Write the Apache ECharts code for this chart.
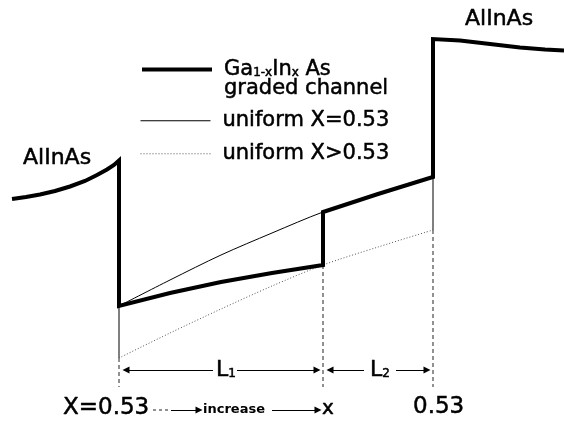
<!DOCTYPE html>
<html>
<head>
<meta charset="utf-8">
<script src="https://cdn.jsdelivr.net/npm/echarts@6.0.0/dist/echarts.min.js"></script>
<style>
html,body{margin:0;padding:0;background:#fff;}
#chart{width:564px;height:421px;}
</style>
</head>
<body>
<div id="chart"></div>
<script>
// ---------- data: position along the layer stack (x) and band energy (E), arbitrary units ----------
// Graded Ga(1-x)In(x)As channel between AlInAs barriers (conduction band edge)
const gradedX = [12, 26, 40, 55, 70, 85, 97, 107, 114, 119, 119, 170, 221, 272, 323, 323, 378, 433, 433, 460, 490, 520, 545, 564];
const gradedE = [222, 224, 226.5, 230, 234.5, 240, 246, 251.5, 256, 260.5, 115, 128, 139, 148, 156, 209, 227, 244, 382, 380.5, 377, 373.5, 371.5, 370.5];
// Uniform X = 0.53 channel
const uniformEqX = [119, 170, 221, 272, 323, 378, 433];
const uniformEqE = [115, 141, 166, 188, 209, 227, 244];
// Uniform X > 0.53 channel
const uniformGtX = [119, 170, 221, 272, 323, 378, 433];
const uniformGtE = [63, 88, 112, 135, 156, 174, 191];
// Region boundaries (x) and where their dashed guides start / end (E)
const boundaryX = [119, 323, 433];
const guideTopE = [63, 156, 191];
const guideBottomE = 34;
const dimensionE = 51;     // level of the L1 / L2 dimension arrows
const compositionE = 11;   // level of the composition annotation row
// Text
const seriesNames = ['graded', 'uniformEq', 'uniformGt'];
const legendLabels = ['Ga{s|1-x}In{s|x} As\ngraded channel', 'uniform X=0.53', 'uniform X>0.53'];
const barrierLabels = ['AlInAs', 'AlInAs'];
const lengthLabels = ['L{s|1}', 'L{s|2}'];
const compositionLabels = ['X=0.53', 'increase', 'x', '0.53'];

// ---------- chart ----------
const FONT = 'DejaVu Sans';
const chart = echarts.init(document.getElementById('chart'), null, {renderer: 'canvas'});
const pts = (xs, es) => xs.map((x, i) => [x, es[i]]);
const seg = (x1, e1, x2, e2) => [[x1, e1], [x2, e2]];

// vertical guides
const guideSeries = [];
boundaryX.forEach((x, i) => {
  guideSeries.push({
    type: 'line', data: seg(x, guideTopE[i], x, guideBottomE), symbol: 'none', silent: true,
    lineStyle: {color: '#222', width: 1, type: [4, 3]}, z: 2
  });
});
// thin solid connectors between the uniform curves at the two ends of the channel
[0, uniformEqX.length - 1].forEach(k => {
  guideSeries.push({
    type: 'line', data: seg(uniformEqX[k], uniformGtE[k], uniformEqX[k], uniformEqE[k]), symbol: 'none', silent: true,
    lineStyle: {color: '#000', width: 1}, z: 2
  });
});

// dimension arrows (L1, L2) between boundaries, with a gap for the label
const tipInset = 7, gapHalf = [12, 16], gapShift = [4, 2];
const arrowData = [];
for (let i = 0; i < 2; i++) {
  const a = boundaryX[i], b = boundaryX[i + 1];
  const c = (a + b) / 2 + gapShift[i];
  arrowData.push({coords: seg(c - gapHalf[i], dimensionE, a + tipInset, dimensionE)});
  arrowData.push({coords: seg(c + gapHalf[i], dimensionE, b - tipInset + 1, dimensionE)});
}
// composition row arrows
arrowData.push({coords: seg(171, compositionE, 199, compositionE)});
arrowData.push({coords: seg(272, compositionE, 318, compositionE)});

const legendTops = [41, 110, 143];
const legendWidths = [4, 1, 1];
const legendTypes = ['solid', 'solid', [1, 2]];
const legendColors = ['#000', '#000', '#555'];
const TB = {textBorderColor: '#000', textBorderWidth: 0.5};
const gStroke = {stroke: '#000', lineWidth: 0.5};

const option = {
  animation: false,
  backgroundColor: '#fff',
  grid: {left: 0, right: 0, top: 0, bottom: 0},
  xAxis: {type: 'value', min: 0, max: 564, show: false},
  yAxis: {type: 'value', min: 0, max: 421, show: false},
  legend: seriesNames.map((n, i) => ({
    data: [n], left: 140, top: legendTops[i], padding: 0, selectedMode: false,
    itemWidth: 70, itemHeight: 19,
    itemStyle: {opacity: 0},
    lineStyle: {width: legendWidths[i], type: legendTypes[i], color: legendColors[i], opacity: 1},
    formatter: () => legendLabels[i],
    textStyle: Object.assign({
      fontFamily: FONT, fontSize: 21, color: '#000', lineHeight: 19,
      padding: i === 0 ? [19, 0, 0, 7] : [0, 0, 0, 7],
      rich: {s: Object.assign({fontFamily: FONT, fontSize: 12, lineHeight: 8, verticalAlign: 'bottom', color: '#000'}, TB)}
    }, TB)
  })),
  series: [
    {name: 'graded', type: 'line', data: pts(gradedX, gradedE), symbol: 'none', z: 5,
     lineStyle: {color: '#000', width: 4, join: 'miter', cap: 'butt'}},
    {name: 'uniformEq', type: 'line', data: pts(uniformEqX, uniformEqE), symbol: 'none', z: 4, smooth: 0.3,
     lineStyle: {color: '#000', width: 1}},
    {name: 'uniformGt', type: 'line', data: pts(uniformGtX, uniformGtE), symbol: 'none', z: 3, smooth: 0.3,
     lineStyle: {color: '#555', width: 1, type: [1, 2]}},
    ...guideSeries,
    {type: 'line', data: seg(153, compositionE, 171, compositionE), symbol: 'none', silent: true,
     lineStyle: {color: '#222', width: 1, type: [3, 3]}},
    {type: 'lines', coordinateSystem: 'cartesian2d', silent: true, data: arrowData,
     symbol: ['none', 'triangle'], symbolSize: 7,
     lineStyle: {color: '#000', width: 1, opacity: 1, curveness: 0}}
  ],
  graphic: [
    {type: 'text', x: 23, y: 158, style: Object.assign({text: barrierLabels[0], font: '22px "DejaVu Sans"', fill: '#000', verticalAlign: 'middle'}, gStroke)},
    {type: 'text', x: 465, y: 19, style: Object.assign({text: barrierLabels[1], font: '22px "DejaVu Sans"', fill: '#000', verticalAlign: 'middle'}, gStroke)},
    {type: 'text', x: 226, y: 370, style: Object.assign({text: lengthLabels[0], fontFamily: FONT, fontSize: 22, fill: '#000', align: 'center', verticalAlign: 'middle', lineHeight: 20,
      rich: {s: Object.assign({fontFamily: FONT, fontSize: 12, lineHeight: 8, verticalAlign: 'bottom'}, gStroke)}}, gStroke)},
    {type: 'text', x: 380, y: 370, style: Object.assign({text: lengthLabels[1], fontFamily: FONT, fontSize: 22, fill: '#000', align: 'center', verticalAlign: 'middle', lineHeight: 20,
      rich: {s: Object.assign({fontFamily: FONT, fontSize: 12, lineHeight: 8, verticalAlign: 'bottom'}, gStroke)}}, gStroke)},
    {type: 'text', x: 63, y: 408, style: Object.assign({text: compositionLabels[0], font: '23px "DejaVu Sans"', fill: '#000', verticalAlign: 'middle'}, gStroke)},
    {type: 'text', x: 203, y: 410, style: {text: compositionLabels[1], font: 'bold 13px "DejaVu Sans"', fill: '#000', verticalAlign: 'middle'}},
    {type: 'text', x: 322, y: 409, style: Object.assign({text: compositionLabels[2], font: '20px "DejaVu Sans"', fill: '#000', verticalAlign: 'middle'}, gStroke)},
    {type: 'text', x: 413, y: 407, style: Object.assign({text: compositionLabels[3], font: '23px "DejaVu Sans"', fill: '#000', verticalAlign: 'middle'}, gStroke)}
  ]
};
chart.setOption(option);
</script>
</body>
</html>
